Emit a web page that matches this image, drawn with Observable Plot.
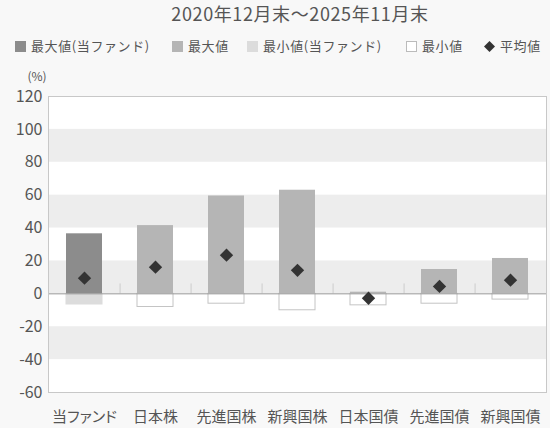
<!DOCTYPE html>
<html><head><meta charset="utf-8">
<script src="https://cdn.jsdelivr.net/npm/d3@7"></script>
<script src="https://cdn.jsdelivr.net/npm/@observablehq/plot@0.6"></script>
<style>
body{margin:0;background:#f8f8f8;font-family:"Noto Sans CJK JP","Noto Sans",sans-serif;color:#555;width:550px;height:428px;overflow:hidden;position:relative}
#title{position:absolute;top:-1px;left:0;width:550px;box-sizing:border-box;padding-left:50px;text-align:center;font-size:18px;line-height:28px;letter-spacing:0.6px;font-feature-settings:"palt"}
#legend{position:absolute;top:36px;left:0;width:550px;height:20px;font-size:13px;letter-spacing:0.6px}
#legend span.item{position:absolute;top:0;display:flex;align-items:center;gap:5px;white-space:nowrap;line-height:20px}
.sw{display:inline-block;width:11px;height:11px}
#chart{position:absolute;top:58px;left:0}
#chart svg g[aria-label="x-axis tick label"] text{font-feature-settings:"palt"}
</style></head>
<body>
<div id="title">2020年12月末～2025年11月末</div>
<div id="legend"></div>
<div id="chart"></div>
<script>
const categories = ["当ファンド","日本株","先進国株","新興国株","日本国債","先進国債","新興国債"];
const maxVals = [36.5, 41.5, 59.5, 63, 1, 14.8, 21.5];
const minVals = [-6.5, -8, -6, -10, -7, -6, -3.5];
const avgVals = [9.5, 16.2, 23.5, 14.3, -2.7, 4.5, 8.3];
const yTicks = [120, 100, 80, 60, 40, 20, 0, -20, -40, -60];
const bands = [[80,100],[40,60],[0,20],[-40,-20]];
const legendLabels = ["最大値(当ファンド)","最大値","最小値(当ファンド)","最小値","平均値"];

const colMaxFund = "#8c8c8c", colMax = "#b5b5b5", colMinFund = "#dcdcdc", colBand = "#ededed";

const rows = categories.map((c,i)=>({cat:c, max:maxVals[i], min:minVals[i], avg:avgVals[i], fund:i===0}));

// legend
const lg = document.getElementById("legend");
const swatches = [
  `<span class="sw" style="background:${colMaxFund}"></span>`,
  `<span class="sw" style="background:${colMax}"></span>`,
  `<span class="sw" style="background:${colMinFund}"></span>`,
  `<span class="sw" style="background:#fff;border:1px solid #bbb;box-sizing:border-box"></span>`,
  `<svg width="11" height="11"><path d="M5.5 0L11 5.5L5.5 11L0 5.5Z" fill="#333"/></svg>`
];
const legendLeft = [15, 172, 247, 406, 484];
lg.innerHTML = legendLabels.map((l,i)=>`<span class="item" style="left:${legendLeft[i]}px">${swatches[i]}${l}</span>`).join("");

const W = 550, H = 370, mL = 48, mR = 4;
const step = (W - mL - mR) / 7;
const font = '"Noto Sans CJK JP","Noto Sans",sans-serif';
const chart = Plot.plot({
  width: W, height: H,
  marginTop: 38, marginBottom: 36, marginLeft: mL, marginRight: mR,
  style: {fontFamily: font, fontSize: "15px", color: "#555", background: "transparent"},
  x: {domain: categories, paddingInner: 0.5, paddingOuter: 0.25, label: null},
  y: {domain: [-60, 120], label: null},
  marks: [
    Plot.frame({fill: "#fff"}),
    Plot.rect(bands, {y1: d=>d[0], y2: d=>d[1], fill: colBand}),
    Plot.ruleX(categories.slice(0,-1), {x: d=>d, dx: step/2, y1: 0, y2: 6, stroke: "#ccc"}),
    Plot.barY(rows, {x: "cat", y: "min", fill: d=>d.fund ? colMinFund : "#fff", stroke: d=>d.fund ? colMinFund : "#c4c4c4"}),
    Plot.ruleY([0], {stroke: "#999"}),
    Plot.barY(rows, {x: "cat", y: "max", fill: d=>d.fund ? colMaxFund : colMax}),
    Plot.dot(rows, {x: "cat", y: "avg", symbol: "diamond2", r: 6, fill: "#333", stroke: "none"}),
    Plot.frame({stroke: "#c8c8c8"}),
    Plot.axisX({tickSize: 0, tickPadding: 19, fontSize: 15}),
    Plot.axisY({ticks: yTicks, tickSize: 0, tickPadding: 6, fontSize: 16, tickFormat: d=>String(d)}),
    Plot.text(["(%)"], {frameAnchor: "top-left", dx: -21, dy: -24, fontSize: 12, text: d=>d})
  ]
});
document.getElementById("chart").appendChild(chart);
</script>
</body></html>
